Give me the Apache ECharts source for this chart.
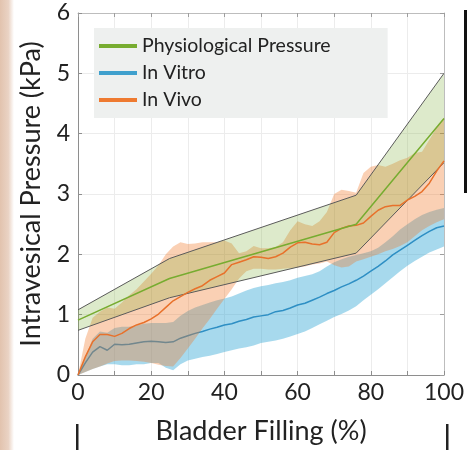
<!DOCTYPE html>
<html><head><meta charset="utf-8">
<script src="https://cdn.jsdelivr.net/npm/echarts@6/dist/echarts.min.js"></script>
<style>html,body{margin:0;padding:0;background:#fff}#c{width:467px;height:450px}</style>
</head><body><div id="c"></div>
<script>
// ---- data ----
const fillPct = [0,2,4,6,8,10,12,14,16,18,20,22,24,26,28,30,32,34,36,38,40,42,44,46,48,50,52,54,56,58,60,62,64,66,68,70,72,74,76,78,80,82,84,86,88,90,92,94,96,98,100];
const vitroMean  = [0,0.2,0.38,0.47,0.41,0.51,0.5,0.51,0.53,0.55,0.56,0.55,0.54,0.55,0.61,0.65,0.69,0.72,0.76,0.79,0.83,0.85,0.89,0.92,0.96,0.98,1.0,1.05,1.07,1.11,1.16,1.19,1.24,1.29,1.35,1.4,1.46,1.51,1.57,1.64,1.72,1.8,1.89,1.99,2.07,2.15,2.23,2.31,2.38,2.44,2.47];
const vitroLower = [0,0.05,0.1,0.14,0.18,0.18,0.16,0.16,0.18,0.18,0.2,0.2,0.12,0.08,0.18,0.24,0.27,0.3,0.32,0.35,0.38,0.41,0.44,0.46,0.49,0.53,0.55,0.57,0.6,0.64,0.68,0.72,0.78,0.84,0.9,0.96,1.01,1.07,1.14,1.24,1.33,1.42,1.52,1.62,1.72,1.81,1.89,1.96,2.03,2.08,2.13];
const vitroUpper = [0,0.3,0.6,0.72,0.7,0.78,0.8,0.8,0.82,0.85,0.86,0.86,0.86,0.88,0.98,1.06,1.12,1.16,1.2,1.24,1.27,1.3,1.35,1.4,1.44,1.47,1.49,1.52,1.54,1.57,1.61,1.64,1.67,1.72,1.8,1.87,1.92,1.96,1.99,2.02,2.05,2.11,2.2,2.3,2.41,2.5,2.58,2.65,2.7,2.74,2.77];
const vivoMean  = [0,0.3,0.55,0.67,0.67,0.64,0.69,0.77,0.83,0.87,0.93,1.01,1.12,1.23,1.3,1.37,1.43,1.48,1.57,1.63,1.69,1.83,1.87,1.91,1.96,1.95,1.93,1.96,2.02,2.12,2.19,2.2,2.17,2.16,2.2,2.36,2.43,2.47,2.48,2.52,2.63,2.73,2.79,2.81,2.81,2.9,2.96,3.04,3.18,3.38,3.55];
const vivoLower = [0,0.05,0.1,0.14,0.19,0.23,0.24,0.24,0.23,0.22,0.2,0.17,0.15,0.14,0.28,0.44,0.6,0.77,0.93,1.1,1.26,1.42,1.6,1.72,1.76,1.76,1.75,1.75,1.76,1.77,1.78,1.8,1.83,1.85,1.88,1.82,1.78,1.8,1.88,1.92,1.96,2.0,2.05,2.09,2.14,2.2,2.3,2.4,2.47,2.53,2.58];
const vivoUpper = [0,0.6,0.95,1.05,1.12,1.1,1.2,1.32,1.42,1.55,1.68,1.82,2.0,2.13,2.2,2.17,2.18,2.2,2.2,2.2,2.23,2.18,2.02,2.05,2.14,2.1,2.1,2.12,2.2,2.4,2.55,2.5,2.47,2.55,2.7,3.0,3.07,3.05,3.02,3.35,3.45,3.48,3.45,3.5,3.56,3.6,3.68,3.7,3.9,4.1,4.27];
const physX     = [0,25,76,100];
const physMean  = [0.91,1.6,2.5,4.25];
const physLower = [0.74,1.28,2.02,3.52];
const physUpper = [1.08,1.93,2.98,5.0];
const xTickLabels = [0,20,40,60,80,100];
const yTickLabels = [0,1,2,3,4,5,6];
const legendNames = ['Physiological Pressure','In Vitro','In Vivo'];

// ---- helpers ----
const pairs = (xs, ys) => xs.map((x, i) => [x, ys[i]]);
const FONT = 'Lato';
const base = {type:'line', showSymbol:false, symbol:'none', silent:true, animation:false};

function band(name, xs, lo, hi, fill, edge, z) {
  return {
    type:'custom', name, silent:true, z, animation:false, clip:true,
    coordinateSystem:'cartesian2d',
    data: xs.map((x, i) => [x, lo[i], hi[i]]),
    encode:{x:0, y:[1,2]},
    renderItem(params, api) {
      if (params.dataIndex !== 0) return null;
      const top = xs.map((x, i) => api.coord([x, hi[i]]));
      const bot = xs.map((x, i) => api.coord([x, lo[i]]));
      const children = [{type:'polygon', shape:{points: top.concat(bot.slice().reverse())}, style:{fill: fill, stroke: null}}];
      if (edge) {
        children.push({type:'polyline', shape:{points: top}, style:{stroke: edge, lineWidth: 1, fill: null}});
        children.push({type:'polyline', shape:{points: bot}, style:{stroke: edge, lineWidth: 1, fill: null}});
      }
      return {type:'group', children};
    }
  };
}

const chart = echarts.init(document.getElementById('c'), null, {renderer:'canvas'});
chart.setOption({
  animation:false,
  grid:{left:78, right:11, top:13, bottom:63},
  xAxis:[{
    type:'value', min:0, max:100, interval:10,
    axisLine:{show:true, onZero:false, lineStyle:{color:'#8e8e8e', width:1}},
    axisTick:{show:true, inside:true, length:4, lineStyle:{color:'#8e8e8e'}},
    axisLabel:{formatter:v => xTickLabels.includes(v) ? String(v) : '', color:'#222', fontFamily:FONT, fontSize:23, margin:6},
    splitLine:{show:true, lineStyle:{color:'#ececec', width:1}},
    name:'Bladder Filling (%)', nameLocation:'middle', nameGap:43,
    nameTextStyle:{color:'#222', fontFamily:FONT, fontSize:27}
  },{
    type:'value', position:'top', min:0, max:100, interval:10,
    axisLine:{show:true, onZero:false, lineStyle:{color:'#bdbdbd', width:1}},
    axisTick:{show:true, inside:true, length:4, lineStyle:{color:'#9e9e9e'}},
    axisLabel:{show:false}, splitLine:{show:false}
  }],
  yAxis:[{
    type:'value', min:0, max:6, interval:1,
    axisLine:{show:true, onZero:false, lineStyle:{color:'#8e8e8e', width:1}},
    axisTick:{show:true, inside:true, length:4, lineStyle:{color:'#8e8e8e'}},
    axisLabel:{formatter:v => yTickLabels.includes(v) ? String(v) : '', color:'#222', fontFamily:FONT, fontSize:23, margin:8},
    splitLine:{show:true, lineStyle:{color:'#ececec', width:1}},
    name:'Intravesical Pressure (kPa)', nameLocation:'middle', nameGap:33,
    nameTextStyle:{color:'#222', fontFamily:FONT, fontSize:27}
  },{
    type:'value', position:'right', min:0, max:6, interval:1,
    axisLine:{show:true, onZero:false, lineStyle:{color:'#bdbdbd', width:1}},
    axisTick:{show:true, inside:true, length:4, lineStyle:{color:'#9e9e9e'}},
    axisLabel:{show:false}, splitLine:{show:false}
  }],
  legend:{
    left:94, top:28, orient:'vertical', backgroundColor:'#eef0ef',
    padding:[8,57,8,5], itemWidth:38, itemHeight:4, itemGap:7, selectedMode:false, z:10,
    textStyle:{fontFamily:FONT, fontSize:19.5, color:'#222', lineHeight:20},
    data:[
      {name:legendNames[0], icon:'rect', itemStyle:{color:'#77ac30'}},
      {name:legendNames[1], icon:'rect', itemStyle:{color:'#3fa0cd'}},
      {name:legendNames[2], icon:'rect', itemStyle:{color:'#ee7a30'}}
    ]
  },
  graphic:[
    {type:'rect', silent:true, shape:{x:0, y:0, width:14, height:450},
     style:{fill:new echarts.graphic.LinearGradient(0,0,1,0,[{offset:0,color:'#e2c3ae'},{offset:0.6,color:'#ead3c4'},{offset:1,color:'#ffffff'}])}},
    {type:'rect', silent:true, shape:{x:464, y:10, width:3, height:183}, style:{fill:'#111'}},
    {type:'rect', silent:true, shape:{x:76, y:424, width:2.5, height:26}, style:{fill:'#222'}},
    {type:'rect', silent:true, shape:{x:446, y:424, width:2.5, height:26}, style:{fill:'#222'}}
  ],
  series:[
    band('vitroBand', fillPct, vitroLower, vitroUpper, 'rgba(60,170,215,0.45)', null, 2),
    {...base, name:'In Vitro', data:pairs(fillPct, vitroMean), lineStyle:{color:'#2e8fc4', width:1.5}, itemStyle:{color:'#3fa0cd'}, z:3},
    band('vivoBand', fillPct, vivoLower, vivoUpper, 'rgba(240,120,40,0.35)', null, 4),
    band('physBand', physX, physLower, physUpper, 'rgba(119,172,48,0.25)', '#5a5a5a', 5),
    {...base, name:'In Vivo', data:pairs(fillPct, vivoMean), lineStyle:{color:'#e8712b', width:1.5}, itemStyle:{color:'#ee7a30'}, z:6},
    {...base, name:'Physiological Pressure', data:pairs(physX, physMean), lineStyle:{color:'#77ac30', width:1.5}, itemStyle:{color:'#77ac30'}, z:7}
  ]
});
</script></body></html>
